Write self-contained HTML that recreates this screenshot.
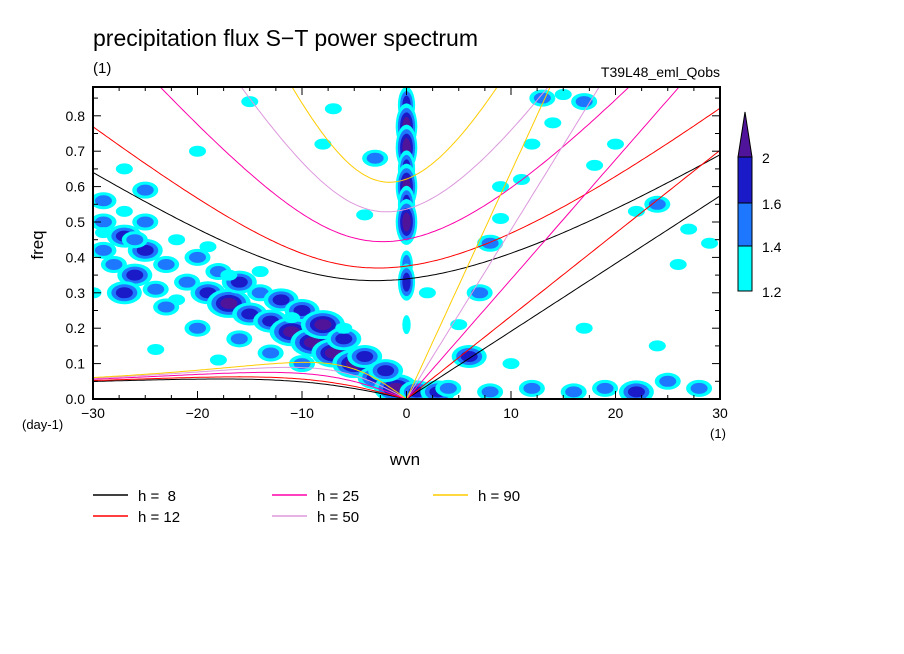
<!DOCTYPE html>
<html><head><meta charset="utf-8"><style>
body{margin:0;background:#fff;}
svg{display:block;font-family:"Liberation Sans",sans-serif;}
</style></head><body>
<svg id="chart" width="904" height="654" viewBox="0 0 904 654">
<defs><clipPath id="pc"><rect x="93" y="87" width="627" height="312"/></clipPath></defs>
<text x="93" y="46" font-size="23">precipitation flux S−T power spectrum</text>
<text x="93" y="73" font-size="15">(1)</text>
<text x="720" y="77" font-size="14" text-anchor="end">T39L48_eml_Qobs</text>
<g id="blobs" clip-path="url(#pc)"></g>
<g id="curves" clip-path="url(#pc)"></g>
<rect x="93" y="87" width="627" height="312" fill="none" stroke="#000" stroke-width="2"/>
<g id="axes"></g>
<text x="43" y="245" font-size="17" transform="rotate(-90 43 245)" text-anchor="middle">freq</text>
<text x="22" y="429" font-size="13">(day-1)</text>
<text x="405" y="465" font-size="17" text-anchor="middle">wvn</text>
<text x="718" y="438" font-size="13" text-anchor="middle">(1)</text>
<g>
<polygon points="738,157 752,157 745,112" fill="#50149a" stroke="#000"/>
<rect x="738" y="157" width="14" height="46" fill="#1a1ac8" stroke="#000"/>
<rect x="738" y="203" width="14" height="43" fill="#1e78ff" stroke="#000"/>
<rect x="738" y="246" width="14" height="45" fill="#00ffff" stroke="#000"/>
<text x="762" y="163" font-size="14">2</text>
<text x="762" y="209" font-size="14">1.6</text>
<text x="762" y="252" font-size="14">1.4</text>
<text x="762" y="297" font-size="14">1.2</text>
</g>
<g id="legend"></g>
</svg>
<script>
const hValues=[8,12,25,50,90];
const hColors=["#000000","#ff0000","#ff00aa","#dd99dd","#ffcc00"];
// blob data: wavenumber, frequency, level (1=1.2,2=1.4,3=1.6,4=2)
const blobWvn=[-29,-27,-25,-23,-21,-19,-17,-15,-13,-11,-9,-7,-5,-3,-1,1,3,-28,-26,-24,-22,-29,-27,-25,-20,-18,-16,-14,-12,-10,-8,-6,-4,-2,0,0,0,0,0,0,0,0,0,0,-25,-11,-4,-24,-18,-7,-3,5,7,8,9,11,12,13,15,17,20,24,27,6,9,14,18,22,26,4,8,12,16,19,22,25,28,-27,-15,-20,-8,2,10,29,17,24,-29,-30,-27,-23,-20,-16,-13,-10,-29,-26,-22,-19,-17,-14,-6];
const blobFrq=[0.50,0.46,0.42,0.38,0.33,0.30,0.27,0.24,0.22,0.19,0.16,0.13,0.10,0.06,0.03,0.02,0.02,0.38,0.35,0.31,0.28,0.56,0.53,0.50,0.40,0.36,0.33,0.30,0.28,0.25,0.21,0.17,0.12,0.08,0.83,0.77,0.71,0.65,0.60,0.55,0.50,0.38,0.33,0.21,0.59,0.23,0.52,0.14,0.11,0.82,0.68,0.21,0.30,0.44,0.51,0.62,0.72,0.85,0.86,0.84,0.72,0.55,0.48,0.12,0.60,0.78,0.66,0.53,0.38,0.03,0.02,0.03,0.02,0.03,0.02,0.05,0.03,0.65,0.84,0.70,0.72,0.30,0.10,0.44,0.20,0.15,0.42,0.30,0.30,0.26,0.20,0.17,0.13,0.10,0.47,0.45,0.45,0.43,0.35,0.36,0.20];
const blobLvl=[2,3,3,2,2,3,4,3,3,4,4,4,4,3,4,3,3,2,3,2,1,2,1,2,2,2,3,2,3,3,4,3,3,3,3,4,4,3,4,3,4,2,3,1,2,1,1,1,1,1,2,1,2,2,1,1,1,2,1,2,1,2,1,3,1,1,1,1,1,2,2,2,2,2,3,2,2,1,1,1,1,1,1,1,1,1,2,1,3,2,2,2,2,2,1,2,1,1,1,1,1];

const X=w=>93+(w+30)*627/60;
function Yf(f){return 399-f*354;}
const NS="http://www.w3.org/2000/svg";
const lvlCol=["#00ffff","#1e78ff","#1a1ac8","#50149a"];
const gB=document.getElementById('blobs');
for(let i=0;i<blobWvn.length;i++){
  const cx=X(blobWvn[i]),cy=Yf(blobFrq[i]),L=blobLvl[i];
  const vert=blobWvn[i]===0;
  for(let l=1;l<=L;l++){
    const e=document.createElementNS(NS,'ellipse');
    
    
    const s=(L-l+1);
    e.setAttribute('cx',cx);e.setAttribute('cy',cy);
    e.setAttribute('rx',vert?2+s*2.2:4+s*4.5);e.setAttribute('ry',vert?5+s*4.5:2.5+s*3);
    e.setAttribute('fill',lvlCol[l-1]);
    gB.appendChild(e);
  }
}
// dispersion curves
const beta=2.29e-11,a=6.371e6,cpd=86400/(2*Math.PI);
const gC=document.getElementById('curves');
function path(pts,col,name){
  const p=document.createElementNS(NS,'path');
  
  
  p.setAttribute('d',pts.map((q,i)=>(i?'L':'M')+X(q[0]).toFixed(1)+','+Yf(q[1]).toFixed(1)).join(''));
  p.setAttribute('fill','none');p.setAttribute('stroke',col);p.setAttribute('stroke-width','1');
  gC.appendChild(p);
}
hValues.forEach((h,j)=>{
  const c=Math.sqrt(9.81*h),col=hColors[j];
  const kel=[],ig=[],ros=[];
  for(let s=-30;s<=30.001;s+=0.25){
    const k=s/a;
    let w=Math.sqrt(3*beta*c+c*c*k*k);
    for(let it=0;it<30;it++){w=Math.sqrt(Math.max(1e-20,3*beta*c+c*c*k*k+beta*k*c*c/w));}
    ig.push([s,w*cpd]);
    if(s>=0)kel.push([s,c*k*cpd]);
    if(s<=0)ros.push([s,-beta*k/(k*k+3*beta/c)*cpd]);
  }
  path(kel,col,'kelvin-h'+h);path(ig,col,'ig-h'+h);path(ros,col,'rossby-h'+h);
});
// axes
const gA=document.getElementById('axes');
function ln(x1,y1,x2,y2,nm){const l=document.createElementNS(NS,'line');


l.setAttribute('x1',x1);l.setAttribute('y1',y1);l.setAttribute('x2',x2);l.setAttribute('y2',y2);l.setAttribute('stroke','#000');gA.appendChild(l);}
function tx(x,y,t,anc,nm){const e=document.createElementNS(NS,'text');


e.setAttribute('x',x);e.setAttribute('y',y);e.setAttribute('font-size','14');e.setAttribute('text-anchor',anc);e.textContent=t;gA.appendChild(e);}
for(let i=0;i<=17;i++){const y=Yf(i*0.05);const L=i%2?5:8;ln(93,y,93+L,y,'y-tick');ln(720,y,720-L,y,'y-tick');
 if(i%2===0)tx(85,y+5,(i*0.05).toFixed(1),'end','y-tick-label');}
for(let w=-30;w<=30;w+=2.5){const x=X(w);const L=(w%10===0)?8:4;ln(x,399,x,399-L,'x-tick');ln(x,87,x,87+L,'x-tick');}
[-30,-20,-10,0,10,20,30].forEach(w=>tx(X(w),418,(w<0?'−':'')+Math.abs(w),'middle','x-tick-label'));
// legend
const gL=document.getElementById('legend');
const pos={8:[93,495],12:[93,516],25:[272,495],50:[272,516],90:[433,495]};
hValues.forEach((h,j)=>{
  const [x,y]=pos[h];
  const l=document.createElementNS(NS,'line');
  
  
  l.setAttribute('x1',x);l.setAttribute('x2',x+35);l.setAttribute('y1',y);l.setAttribute('y2',y);l.setAttribute('stroke',hColors[j]);l.setAttribute('stroke-width','1.5');gL.appendChild(l);
  const t=document.createElementNS(NS,'text');
  
  
  t.setAttribute('x',x+45);t.setAttribute('y',y+6);t.setAttribute('font-size','15');t.style.whiteSpace='pre';
  t.textContent='h = '+(h<10?' ':'')+h;gL.appendChild(t);
});
</script>
</body></html>
